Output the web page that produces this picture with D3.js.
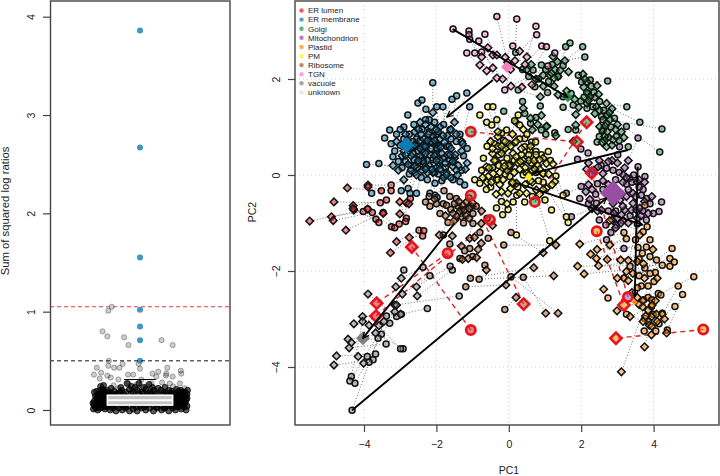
<!DOCTYPE html>
<html>
<head>
<meta charset="utf-8">
<script src="https://cdn.jsdelivr.net/npm/d3@7"></script>
<style>
	html, body { margin: 0; padding: 0; background: #fff; }
	svg { display: block; }
	text { font-family: "Liberation Sans", Arial, sans-serif; fill: #222; }
</style>
</head>
<body>
<div id="chart"></div>
<script>
var classNames = ["ER lumen", "ER membrane", "Golgi", "Mitochondrion", "Plastid", "PM", "Ribosome", "TGN", "vacuole", "unknown"];
var classColours = ["#E41A1C", "#0A7DB5", "#238B45", "#984EA3", "#FF8A00", "#FFF01F", "#A65628", "#F781BF", "#808080", "#DDDDDD"];

// left panel: blue outliers, then jitter/value pairs for the grey strip
var blueValues = [3.86, 2.67, 1.55, 1.02, 0.85, 0.71, 0.50];
var redCutoff = 1.05;
var blackCutoff = 0.50;
var boxStats = { low: 0.0, q1: 0.05, median: 0.10, q3: 0.15, high: 0.31 };
var stripSparse = [[-.59,1.05],[-.66,1.01],[-.78,.8],[-.68,.75],[-.33,.74],[-.24,.66],[.45,.71],[.68,.66],[-.65,.5],[-.9,.43],[-.66,.45],[-.54,.43],[-.43,.43],[-.36,.47],[-.03,.47],[0,.42],[.57,.43],[.85,.4],[.86,.37],[-.96,.36],[-.81,.38],[-.84,.32],[-.68,.35],[-.61,.33],[-.25,.36],[-.14,.36],[.26,.37],[.38,.39],[.55,.37],[.54,.35],[.34,.34],[.68,.34],[-.45,.31],[.03,.31],[-.55,.25],[-.45,.22],[-.24,.27],[-.07,.26],[.24,.27],[.46,.28],[.62,.27],[.83,.27],[.69,.24],[.93,.22],[.3,.21],[.13,.24]];
var stripDense = [[-.97,.01],[-.93,.03],[-.88,0],[-.83,.02],[-.78,.05],[-.73,.01],[-.68,.03],[-.62,0],[-.57,.02],[-.5,-.01],[-.44,.02],[-.37,0],[-.3,.02],[-.22,-.01],[-.14,.01],[-.06,-.01],[.03,.02],[.12,0],[.2,.02],[.28,-.01],[.36,.02],[.45,0],[.52,.02],[.6,-.01],[.68,.02],[.74,0],[.8,.03],[.86,.01],[.92,.03],[.96,0],
	[-.96,.05],[-.9,.07],[-.85,.05],[-.8,.09],[-.74,.07],[-.7,.06],[-.95,.09],[-.88,.11],[-.82,.13],[-.76,.11],[-.71,.1],[-.93,.14],[-.86,.16],[-.8,.17],[-.74,.15],[-.69,.14],[-.9,.19],[-.83,.2],[-.77,.21],[-.71,.18],[-.95,.18],[-.82,.24],[-.76,.25],
	[.7,.04],[.76,.06],[.82,.07],[.88,.05],[.94,.07],[.98,.04],[.72,.09],[.78,.11],[.84,.1],[.9,.12],[.96,.1],[.71,.13],[.77,.15],[.83,.14],[.89,.16],[.95,.14],[.72,.17],[.8,.19],[.87,.18],[.94,.18],[.99,.2],[.76,.21],
	[-.62,.05],[-.5,.04],[-.38,.05],[-.26,.04],[-.14,.05],[0,.04],[.14,.05],[.28,.04],[.42,.05],[.56,.04],[-.62,.17],[-.54,.19],[-.46,.17],[-.38,.2],[-.3,.18],[-.22,.21],[-.14,.18],[-.06,.2],[.04,.18],[.12,.21],[.2,.18],[.28,.2],[.36,.17],[.44,.2],[.52,.18],[.6,.2],[-.6,.22],[-.4,.23],[-.18,.24],[-.1,.23],[.08,.23],[.26,.23],[.38,.22],[.52,.23],[-.27,.27],[-.02,.27],[.19,.26],[-.9,.12],[-.68,.2],[.66,.19],[.85,.2],[-.6,.1],[.62,.1],[-.65,.14],[.65,.15],
	[-.92,.02],[-.85,.08],[-.78,.03],[-.72,.04],[-.66,.08],[-.98,.07],[-.88,.14],[-.8,.06],[-.75,.19],[-.66,.17],[-.58,.16],[-.5,.16],[-.42,.18],[-.34,.16],[-.18,.17],[-.02,.17],[.08,.17],[.16,.16],[.24,.17],[.32,.16],[.48,.17],[.56,.16],[.64,.17],[.74,.08],[.8,.04],[.86,.09],[.92,.09],[.98,.12],[.74,.13],[.8,.16],[.86,.13],[.92,.15],[.98,.16],[.69,.07],[.64,.05],[-.08,.03],[.08,.03],[-.32,.03],[.34,.03],[.5,.02],[-.56,.04]];

// right panel rows: circle PC1, circle PC2, diamond PC1, diamond PC2
var erLumen = [[-3.9,-.71,-5.5,-.96],[-4.02,-.76,-4.9,-.87],[-3.77,-.78,-4.85,-.95],[-3.47,-.78,-4.5,-1.15],[-3.55,-.58,-4.83,-.56],[-3.52,-.33,-4.46,-.27],[-3.25,-.21,-3.89,-.21],[-3.25,-.33,-3.89,-.25],[-3.38,-.52,-4.3,-.64],[-3.67,-.92,-4.28,-.73],[-3.59,-.99,-4.3,-.7],[-3.24,-1.08,-3.9,-.71],[-3.15,-1.1,-3.47,-.8],[-3.03,-1.02,-3.01,-.81],[-2.83,-.9,-3.01,-.56],[-2.85,-.97,-2.83,-.58],[-2.72,-.49,-2.76,-.6],[-2.48,-1.15,-3.1,-1.39],[-2.35,-1.16,-3.27,-1.62],[-2.38,-1.27,-2.75,-1.3]];
var erMembrane = [[-2.1,1.92,-2.1,1.3],[-1.44,1.65,-1.6,.95],[-1.57,1.58,-1.9,1.0],[-1.16,1.71,-1.5,1.1],[-1.08,1.42,-1.3,.7],[-2.51,1.5,-2.3,1.05],[-2.4,1.56,-2.0,.95],[-2.29,1.37,-2.1,.8],[-1.99,1.42,-1.9,.75],[-1.82,1.42,-1.7,.82],[-2.79,1.25,-2.6,.9],[-3.29,.94,-2.8,.72],[-3.43,.77,-2.9,.5],[-3.2,.38,-2.7,.4],[-3.93,.22,-3.2,.2],[-3.59,.24,-3.05,.1],[-3.79,-.38,-2.9,-.1],[-2.55,-.38,-2.4,.1],[-2.04,-.42,-2.1,.05],[-1.98,-.47,-1.8,-.05],[-2.97,-.33,-2.7,.1],[-2.78,-.28,-2.5,.25],[-2.73,-.38,-2.55,.0],[-2.04,-.17,-2.2,.2],[-2.18,-.38,-2.0,.15],[-1.22,-.21,-1.4,.2],[-1.35,-.14,-1.5,.35],[-1.54,-.1,-1.65,.3],[-3.1,.85,-2.65,.6],[-3.0,.62,-2.45,.55],[-2.9,1.0,-2.35,.75],[-2.7,.2,-2.3,.45],[-2.55,.75,-2.25,.3],[-2.5,.5,-2.15,.55],[-2.4,.95,-2.05,.4],[-2.2,1.15,-1.95,.6],[-2.05,1.1,-1.85,.45],[-1.8,1.05,-1.75,.25],[-1.6,.75,-1.6,.55],[-1.45,.7,-1.3,.5],[-1.25,.4,-1.15,.25],[-1.15,.55,-1.45,.1],[-2.85,.28,-2.25,.05],[-2.35,.62,-2.12,.68],[-2.6,.05,-1.9,.3],[-2.0,.85,-2.42,.35],[-1.72,.6,-2.28,.15],[-1.95,.02,-2.0,.3],[-2.7,.55,-1.72,.05],[-2.2,.9,-1.55,.18],
	[-2.9,.75,-2.6,.62],[-2.75,.85,-2.5,.95],[-2.65,.7,-2.42,.85],[-2.55,.6,-2.32,.6],[-2.45,.72,-2.22,.85],[-2.38,.48,-2.15,.7],[-2.28,.58,-2.05,.72],[-2.18,.42,-1.98,.55],[-2.1,.32,-1.88,.58],[-2.0,.45,-1.78,.68],[-1.92,.2,-1.7,.42],[-1.82,.35,-1.62,.42],[-1.75,.15,-1.55,.28],[-1.65,.6,-1.48,.42],[-3.15,.5,-2.95,.4],[-3.05,.28,-2.85,.42],[-2.95,.15,-2.78,.22],[-2.75,.02,-2.6,.18],[-2.62,.32,-2.45,.4],[-2.52,.15,-2.38,.28],[-2.42,-.05,-2.3,.12],[-2.25,-.1,-2.12,.12],[-2.05,.05,-1.9,.12],[-1.85,-.12,-1.72,.0],[-1.6,-.05,-1.42,.0],[-1.3,.1,-1.2,.12],[-2.62,1.05,-2.45,1.1],[-2.3,1.15,-2.15,1.0],[-1.95,.9,-1.82,.82],[-1.62,.95,-1.45,.85],[-1.35,.85,-1.28,.65],[-3.25,.65,-3.1,.7],[-3.0,.95,-2.85,.85],[-2.0,.65,-2.25,.72],[-2.35,.3,-2.5,.3],[-2.65,.45,-2.8,.55]];
var golgi = [[2.04,2.67,1.55,2.38],[2.1,2.46,1.34,2.36],[2.73,1.96,2.16,1.94],[3.26,1.42,2.7,1.49],[3.62,1.1,2.85,1.38],[4.23,.96,2.79,1.15],[4.17,.48,2.72,1.25],[1.69,2.75,1.22,2.47],[1.57,2.67,1.36,2.05],[.19,2.55,.49,2.19],[.67,2.19,.95,2.08],[.9,2.29,1.13,2.08],[1.36,2.05,1.65,2.15],[.72,1.84,.95,1.85],[.26,1.77,.87,1.63],[1.07,1.72,1.36,1.67],[1.92,2.08,2.05,2.1],[2.01,1.94,2.07,1.83],[2.28,1.85,2.44,1.86],[2.19,1.7,2.38,1.62],[1.5,1.63,1.82,1.58],[1.99,1.54,2.16,1.49],[1.78,1.46,1.93,1.41],[2.16,1.39,2.42,1.42],[1.5,1.41,1.85,1.26],[2.51,1.53,2.38,1.28],[2.56,1.22,2.72,1.25],[2.7,1.08,2.51,1.01],[3.25,1.01,3.11,.9],[2.61,.94,2.65,.8],[2.97,.8,2.88,.73],[2.44,.69,2.7,.59],[3.3,.59,2.65,.72],[1.64,.95,1.85,1.04],[1.85,.94,1.78,.7],[.87,1.44,1.05,1.02],[.38,1.53,.4,1.39],[.44,1.28,.9,1.24],[.75,1.2,.6,1.18],[.6,1.08,.65,.94],[.9,.94,1.04,1.01],[1.27,.88,1.3,.82],[-.14,1.33,.2,1.1],[1.02,2.2,1.18,2.12],[1.2,2.3,1.28,2.2],[2.15,1.72,2.24,1.63],[2.6,1.15,2.66,1.02],[2.58,.92,2.72,.9],[2.08,1.62,2.2,1.55],[.82,2.0,1.25,2.02],
	[1.5,2.28,1.42,2.18],[1.1,1.95,1.25,1.85],[.55,2.05,.75,2.0],[.38,2.2,.62,2.3],[1.72,1.7,1.6,1.75],[2.35,1.72,2.48,1.68],[2.25,1.98,2.1,2.0],[2.32,1.42,2.5,1.35],[2.62,1.35,2.78,1.3],[2.92,1.18,3.0,1.05],[2.82,1.0,2.95,.95],[2.75,.78,2.85,.62],[2.5,.8,2.58,.68],[3.05,.72,3.18,.78],[1.02,.85,.8,1.05]];
var mito = [[3.57,.17,3.2,-.73],[3.76,-.03,3.25,-.45],[3.25,-.19,3.07,-.52],[3.71,-.3,3.43,-.38],[3.66,-.42,3.43,-.59],[3.8,-.49,3.39,-.73],[4.22,-.56,3.53,-.73],[4.15,-.76,3.62,-.69],[3.99,-.8,3.85,-.8],[3.8,-.94,3.11,-.83],[2.97,-1.04,2.86,-.94],[2.5,-.94,2.56,-.73],[2.68,-1.04,2.88,-.59],[2.7,-1.35,3.0,-.9],[3.18,-1.53,3.1,-1.0],[1.96,-.49,2.24,-.51],[2.42,-.59,2.13,-.35],[2.0,-.24,2.47,.17],[2.7,.14,2.6,.03],[2.88,.1,3.16,0],[3.34,-.07,3.55,-.15],[1.59,-.38,2.2,-.2],[1.73,-.87,2.3,-.7],[3.57,.77,3.3,.3],[3.06,.59,3.0,.25],[2.19,.46,2.5,.3],[3.01,.42,2.85,.3],[1.9,.33,2.2,.25],[1.99,.54,2.35,.1],
	[2.95,-.75,3.15,-.65],[3.3,-.3,3.5,-.45],[2.6,-.3,2.75,-.2],[2.45,-.18,2.6,-.12],[3.05,.05,3.2,.15],[3.45,.0,3.6,-.1],[3.6,-.25,3.75,-.15],[3.35,-.85,3.55,-.9],[3.15,-.95,3.3,-1.0],[2.75,-.75,2.9,-.8],[2.4,-.4,2.3,-.3],[2.2,-.6,2.45,-.75],[3.9,-.6,3.95,-.45],[3.7,-.75,3.75,-.55],[2.95,-.1,3.15,-.15],[2.55,.2,2.75,.28],[2.82,-1.2,2.95,-1.1],[3.4,-.15,3.25,-.05],[2.3,.02,2.15,.12],[3.55,-1.02,3.65,-.85]];
var plastid = [[3.18,-1.2,1.96,-1.44],[3.25,-1.33,2.26,-1.65],[3.57,-1.51,2.44,-1.55],[3.9,-1.35,2.42,-1.74],[3.71,-1.18,2.79,-.95],[3.82,-1.08,2.79,-1.46],[3.76,-.63,3.3,-1.78],[3.69,-1.63,3.09,-1.77],[3.9,-1.7,2.72,-1.76],[4.08,-1.77,2.48,-1.89],[4.24,-1.88,1.9,-1.9],[3.76,-1.94,2.08,-2.06],[4.05,-2.03,3.25,-2.01],[4.45,-1.74,3.43,-2.05],[4.57,-1.81,3.18,-2.15],[4.45,-1.9,3.0,-2.15],[4.51,-1.53,3.3,-2.2],[5.11,-2.12,3.6,-2.7],[4.68,-2.31,3.94,-3.33],[4.8,-2.49,4.36,-3.29],[4.13,-2.47,3.75,-3.58],[4.01,-2.22,3.11,-4.1],[3.66,-2.31,3.55,-2.55],[3.85,-2.31,3.7,-2.62],[2.74,-2.56,2.62,-2.38],[3.73,-2.6,2.99,-2.83],[3.94,-2.74,3.35,-2.95],[4.59,-2.74,4.1,-3.05],[4.24,-2.88,3.95,-2.95],[3.99,-2.9,3.88,-3.13],[3.25,-2.9,3.71,-3.05],[3.76,-2.99,3.78,-2.94],[3.74,-3.25,4.08,-2.9],[4.06,-3.25,3.96,-2.71],[4.38,-3.23,4.24,-2.9],
	[3.35,-1.9,3.55,-1.8],[3.8,-1.5,3.98,-1.55],[3.6,-2.1,3.75,-2.15],[3.55,-2.35,3.4,-2.45],[3.9,-2.05,4.1,-2.15],[4.2,-2.5,4.05,-2.62],[3.85,-2.55,3.7,-2.75],[3.95,-2.6,3.85,-2.82],[3.5,-1.35,3.62,-1.25],[4.15,-3.1,4.3,-3.0],[3.85,-3.05,3.95,-3.15],[3.6,-1.75,3.72,-1.85]];
var pm = [[-.58,1.42,-.3,.8],[-.44,1.42,-.1,.7],[-.8,1.25,-.5,.7],[-.61,1.1,-.3,.6],[-.33,1.15,-.1,.55],[-.47,1.04,-.45,.45],[.26,1.25,.2,.7],[.16,1.13,.05,.6],[.3,1.04,.35,.55],[.44,.76,.55,.3],[.63,.69,.7,.3],[.74,.69,.8,.2],[.75,.49,.65,.1],[.58,.52,.45,.15],[1.09,.49,.95,.03],[.9,.42,1.04,.24],[.44,.59,.25,.25],[-.06,.94,-.2,.45],[-.2,.87,-.35,.3],[-.02,.66,.05,.2],[.17,.67,.12,.45],[-.16,.52,-.05,.1],[.35,.42,.15,.05],[1.18,-.73,.76,-.31],[1.64,-.99,1.04,-.28],[1.59,-.87,1.27,-.14],[1.5,-.42,1.22,.23],[1,-.52,.49,-.38],[.44,-.56,.3,-.38],[.12,-.56,-.02,-.38],[-.02,-.72,-.2,-.35],[-.17,-.83,-.16,-.1],[.21,-1.25,.21,-.17],[1.13,-1.37,.65,-.15],[-.94,-.1,-.57,-.03],[-.8,-.17,-.62,.17],[-.34,-.1,-.43,.03],[-.34,-.69,-.25,-.2],[.95,.03,.55,.0],[.03,-.03,.3,.12],[-.15,.25,.1,-.18],[.4,.0,.6,-.12],[-.45,.15,-.25,.05],[.75,.05,.4,.3],[-.05,.35,.2,.38],[.55,.42,.85,.12],[-.28,.2,.0,.2],
	[-.6,.6,-.4,.3],[-.7,.35,-.55,.15],[-.75,.1,-.6,-.15],[-.5,-.25,-.35,-.4],[-.2,-.55,-.05,-.6],[.25,-.25,.45,-.2],[.65,-.45,.85,-.4],[.95,-.15,1.1,.02],[1.15,.3,.95,.35],[.75,.42,.6,.6],[.3,.75,.1,.85],[-.15,.72,-.3,.9],[-.4,.65,-.2,.6],[.5,.85,.4,.95],[.15,.3,.32,.28],[-.1,.02,.05,-.28],[.22,-.42,.1,-.15],[.48,.05,.72,.12],[.62,.25,.85,.32],[.02,.15,-.12,.18],[-.3,-.1,-.48,-.15],[-.62,-.3,-.72,-.05],[.82,-.12,.95,-.3],[1.3,-.02,1.2,-.2],[-.28,.42,-.45,.55]];
var ribosome = [[-1.79,-.33,-1.03,-.66],[-2.3,-.56,-1.26,-.63],[-2.18,-.65,-1.35,-.76],[-2,-.6,-1.54,-.8],[-1.81,-.6,-1.49,-.94],[-1.72,-.63,-1.22,-.73],[-1.63,-.45,-1.17,-.56],[-1.45,-.49,-1.31,-.87],[-1.68,-.99,-1.92,-1.25],[-1.81,-1.25,-1.56,-1.27],[-1.63,-1.44,-1.31,-1.48],[-.99,-.8,-1.08,-1.32],[-.99,-1.01,-.76,-1.01],[-.57,-1.32,-.76,-1.42],[-1.08,-1.53,-.89,-1.72],[-1.35,-1.74,-1.28,-1.76],[-1.22,-1.58,-1.12,-1.74],[-.66,-1.88,-.62,-1.98],[-1.06,-2.15,.69,-1.93],[-.82,-2.17,1.24,-2.1],[-1.19,-2.33,-.08,-2.29],[.06,-1.2,.95,-1.62],[-.14,-1.46,1.3,-1.46],[.4,-2.13,1.02,-2.88],[.06,-2.12,1.36,-2.88],[-.11,-2.8,.2,-2.55],[-1.4,-.65,-1.18,-.85],[-1.3,-.72,-1.1,-.7],
	[-1.5,-.6,-1.38,-.55],[-1.6,-.72,-1.44,-.86],[-1.1,-.48,-1.0,-.58],[-.9,-.65,-.75,-.75],[-1.25,-1.0,-1.1,-.9],[-.6,-.9,-.45,-1.05],[-2.2,-.45,-2.05,-.5],[-1.9,-.8,-1.75,-.85],[-1.0,-1.7,-.85,-1.55],[-.8,-1.2,-.95,-1.3]];
var tgn = [[-1.54,3.04,-.44,2.5],[-1.1,3.0,-.58,2.65],[-1.1,2.92,-.75,2.46],[-.66,2.93,-.33,2.5],[-.33,3.3,-.03,2.35],[.22,3.25,.17,2.38],[.75,3.1,.5,2.46],[.77,2.92,.3,2.58],[.11,2.69,-.1,2.45],[.91,2.69,.45,2.3],[1.04,2.67,.36,1.83],[1.27,2.54,.64,1.88],[-1.08,2.83,-.61,2.17],[-.83,2.79,-.44,2.23],[-1.16,2.54,-.8,2.29],[-.94,2.54,-.33,2.02],[-.75,2.56,-.17,2.0],[1.08,2.27,.06,1.85],[-.11,1.77,.05,2.2]];
var vacuole = [[-2.37,-1.92,-2.97,-2.15],[-2.9,-1.98,-3.12,-2.33],[-2.18,-2.1,-2.94,-2.48],[-1.56,-1.98,-2.53,-2.52],[-1.62,-1.9,-2.55,-2.33],[-1.37,-2.52,-3.15,-2.71],[-2.25,-2.78,-2.99,-2.9],[-3.1,-2.95,-3.89,-2.48],[-2.97,-2.9,-4.04,-2.95],[-3.38,-2.94,-4.28,-3.1],[-3.29,-3.09,-3.86,-3.13],[-3.52,-3.32,-4.44,-3.42],[-3.61,-3.4,-4.35,-3.49],[-3.39,-3.52,-4.41,-3.6],[-3.68,-3.73,-4.76,-3.77],[-3.75,-3.85,-4.83,-3.96],[-3.91,-3.78,-4.16,-3.78],[-3.86,-3.9,-4.01,-3.92],[-2.92,-3.62,-3.68,-3.29],[-2.99,-3.62,-3.59,-3.14],[-4.35,-4.2,-4.04,-3.05],[-4.39,-4.29,-3.1,-2.71],[-4.25,-4.34,-3.15,-2.85],[-4.33,-4.9,-3.45,-3.05]];
var classRows = [erLumen, erMembrane, golgi, mito, plastid, pm, ribosome, tgn, vacuole];

// class, circle PC1, circle PC2, diamond PC1, diamond PC2
var redPairs = [[2,-1.05,.9,1.88,.69],[2,.72,-.56,2.15,1.1],[6,-1.05,-.42,.41,-2.69],[0,-.52,-.94,-3.67,-2.94],[0,-1.69,-1.63,-3.65,-2.67],[0,-1.05,-3.23,-2.68,-1.5],[3,3.29,-2.54,2.29,.04],[4,2.43,-1.17,3.18,-2.71],[4,5.37,-3.22,2.96,-3.4]];
// class, PC1, PC2, half diagonal in px
var centroids = [[3,2.88,-.38,13],[1,-2.83,.62,8],[8,-4.03,-3.4,7],[2,1.63,1.62,5],[7,-.05,2.25,6],[5,.55,-.04,4],[6,-1.55,-1.0,4],[4,3.48,-2.65,3]];
// from PC1, from PC2, to PC1, to PC2
var trajectories = [[-1.55,3.04,1.63,1.62],[-.44,1.98,-1.71,1.21],[-4.33,-4.9,2.7,-.48],[-1.49,-1.0,-4.03,-3.4],[.22,-.17,3.7,-1.04],[3.56,.17,3.48,-2.54],[3.29,.52,.66,.04]];

var xTicks = [-4, -2, 0, 2, 4];
var yTicks = [-4, -2, 0, 2];
var stripTicks = [0, 1, 2, 3, 4];

var svg = d3.select("#chart").append("svg").attr("width", 720).attr("height", 476);

var stripX = d3.scaleLinear().domain([-1, 1]).range([92, 188]);
var stripY = d3.scaleLinear().domain([0, 4]).range([410, 16.7]);
var pcX = d3.scaleLinear().domain([-4, 4]).range([364, 653.6]);
var pcY = d3.scaleLinear().domain([-4, 2]).range([367, 79]);

function diamond(halfDiagonal) {
	var side = halfDiagonal * Math.SQRT2;
	return d3.symbol().type(d3.symbolSquare).size(side * side)();
}

function placeDiamond(x, y) {
	return "translate(" + x + "," + y + ") rotate(45)";
}

function buildFrame(target, x0, x1, y0, y1) {
	target.append("rect")
		.attr("x", x0)
		.attr("y", y0)
		.attr("width", x1 - x0)
		.attr("height", y1 - y0)
		.attr("fill", "none")
		.attr("stroke", "#444")
		.attr("stroke-width", 1.4);
}

function styleAxis(g) {
	g.select(".domain").remove();
	g.selectAll("line").attr("stroke", "#444").attr("stroke-width", 1.2);
	g.selectAll("text").attr("font-size", 10.5).attr("fill", "#222");
}

function rotateLabels(axis) {
	axis.selectAll("text")
		.attr("x", -18)
		.attr("dy", "0.32em")
		.attr("text-anchor", "middle")
		.attr("transform", "rotate(-90,-18,0)");
}

function buildStrip() {
	var g = svg.append("g");

	g.selectAll(".dense")
		.data(stripDense)
		.enter()
	  .append("circle")
		.attr("cx", function (d) { return stripX(d[0]); })
		.attr("cy", function (d) { return stripY(d[1]); })
		.attr("r", 3)
		.attr("fill", "#000")
		.attr("fill-opacity", 0.65)
		.attr("stroke", "#000")
		.attr("stroke-opacity", 0.75)
		.attr("stroke-width", 1);

	g.selectAll(".sparse")
		.data(stripSparse)
		.enter()
	  .append("circle")
		.attr("cx", function (d) { return stripX(d[0]); })
		.attr("cy", function (d) { return stripY(d[1]); })
		.attr("r", 2.6)
		.attr("fill", "#000")
		.attr("fill-opacity", 0.2)
		.attr("stroke", "#000")
		.attr("stroke-opacity", 0.3)
		.attr("stroke-width", 1);

	// whisker, staple and box
	g.append("line")
		.attr("x1", stripX(0)).attr("x2", stripX(0))
		.attr("y1", stripY(boxStats.high)).attr("y2", stripY(boxStats.q3))
		.attr("stroke", "#000").attr("stroke-width", 1);
	g.append("line")
		.attr("x1", stripX(-0.33)).attr("x2", stripX(0.33))
		.attr("y1", stripY(boxStats.high)).attr("y2", stripY(boxStats.high))
		.attr("stroke", "#000").attr("stroke-width", 1);
	g.append("rect")
		.attr("x", stripX(-0.68))
		.attr("y", stripY(boxStats.q3))
		.attr("width", stripX(0.68) - stripX(-0.68))
		.attr("height", stripY(boxStats.q1) - stripY(boxStats.q3))
		.attr("fill", "#c4c4c4")
		.attr("stroke", "#fff")
		.attr("stroke-width", 1.6);
	g.append("line")
		.attr("x1", stripX(-0.68)).attr("x2", stripX(0.68))
		.attr("y1", stripY(boxStats.median)).attr("y2", stripY(boxStats.median))
		.attr("stroke", "#fff").attr("stroke-width", 2);

	g.selectAll(".blue")
		.data(blueValues)
		.enter()
	  .append("circle")
		.attr("cx", stripX(0))
		.attr("cy", function (d) { return stripY(d); })
		.attr("r", 3)
		.attr("fill", "#1f83bd")
		.attr("fill-opacity", 0.85);

	g.append("line")
		.attr("x1", 50).attr("x2", 230)
		.attr("y1", stripY(redCutoff)).attr("y2", stripY(redCutoff))
		.attr("stroke", "#e8383a").attr("stroke-width", 1).attr("stroke-dasharray", "4,3");
	g.append("line")
		.attr("x1", 50).attr("x2", 230)
		.attr("y1", stripY(blackCutoff)).attr("y2", stripY(blackCutoff))
		.attr("stroke", "#111").attr("stroke-width", 1).attr("stroke-dasharray", "4,3");

	buildFrame(svg, 50.5, 230, 1, 425);

	svg.append("g")
		.attr("transform", "translate(50,0)")
		.call(d3.axisLeft(stripY).tickValues(stripTicks).tickSize(7).tickFormat(d3.format("d")))
		.call(styleAxis)
		.call(rotateLabels);

	svg.append("text")
		.attr("transform", "translate(9,211) rotate(-90)")
		.attr("text-anchor", "middle")
		.attr("font-size", 11.3)
		.text("Sum of squared log ratios");
}

function buildGrid() {
	var g = svg.append("g");
	g.selectAll(".vgrid")
		.data(xTicks)
		.enter()
	  .append("line")
		.attr("x1", function (d) { return pcX(d); })
		.attr("x2", function (d) { return pcX(d); })
		.attr("y1", 1).attr("y2", 425)
		.attr("stroke", "#ccc").attr("stroke-dasharray", "1,3");
	g.selectAll(".hgrid")
		.data(yTicks)
		.enter()
	  .append("line")
		.attr("y1", function (d) { return pcY(d); })
		.attr("y2", function (d) { return pcY(d); })
		.attr("x1", 295).attr("x2", 719)
		.attr("stroke", "#ccc").attr("stroke-dasharray", "1,3");
}

function buildLinks() {
	var g = svg.append("g");
	classRows.forEach(function (rows) {
		g.append("g").selectAll("line")
			.data(rows)
			.enter()
		  .append("line")
			.attr("x1", function (d) { return pcX(d[0]); })
			.attr("y1", function (d) { return pcY(d[1]); })
			.attr("x2", function (d) { return pcX(d[2]); })
			.attr("y2", function (d) { return pcY(d[3]); })
			.attr("stroke", "#333")
			.attr("stroke-width", 1)
			.attr("stroke-opacity", 0.7)
			.attr("stroke-dasharray", "1,2");
	});
	g.append("g").selectAll("line")
		.data(redPairs)
		.enter()
	  .append("line")
		.attr("x1", function (d) { return pcX(d[1]); })
		.attr("y1", function (d) { return pcY(d[2]); })
		.attr("x2", function (d) { return pcX(d[3]); })
		.attr("y2", function (d) { return pcY(d[4]); })
		.attr("stroke", "#e01f26")
		.attr("stroke-width", 1.4)
		.attr("stroke-dasharray", "5,4");
}

function buildPoints() {
	classRows.forEach(function (rows, k) {
		var g = svg.append("g");
		g.selectAll("circle")
			.data(rows)
			.enter()
		  .append("circle")
			.attr("cx", function (d) { return pcX(d[0]); })
			.attr("cy", function (d) { return pcY(d[1]); })
			.attr("r", 3)
			.attr("fill", classColours[k])
			.attr("fill-opacity", 0.5)
			.attr("stroke", "#111")
			.attr("stroke-width", 1.5);
		g.selectAll("path")
			.data(rows)
			.enter()
		  .append("path")
			.attr("d", diamond(3.8))
			.attr("transform", function (d) { return placeDiamond(pcX(d[2]), pcY(d[3])); })
			.attr("fill", classColours[k])
			.attr("fill-opacity", 0.5)
			.attr("stroke", "#111")
			.attr("stroke-width", 1.5);
	});
}

function buildRedPairs() {
	var g = svg.append("g");
	g.selectAll("circle")
		.data(redPairs)
		.enter()
	  .append("circle")
		.attr("cx", function (d) { return pcX(d[1]); })
		.attr("cy", function (d) { return pcY(d[2]); })
		.attr("r", 4.6)
		.attr("fill", function (d) { return classColours[d[0]]; })
		.attr("fill-opacity", 0.55)
		.attr("stroke", "#e8141c")
		.attr("stroke-width", 2.8);
	g.selectAll("path")
		.data(redPairs)
		.enter()
	  .append("path")
		.attr("d", diamond(5.6))
		.attr("transform", function (d) { return placeDiamond(pcX(d[3]), pcY(d[4])); })
		.attr("fill", function (d) { return classColours[d[0]]; })
		.attr("fill-opacity", 0.55)
		.attr("stroke", "#e8141c")
		.attr("stroke-width", 2.6);
}

function buildCentroids() {
	svg.append("g").selectAll("path")
		.data(centroids)
		.enter()
	  .append("path")
		.attr("d", function (d) { return diamond(d[3]); })
		.attr("transform", function (d) { return placeDiamond(pcX(d[1]), pcY(d[2])); })
		.attr("fill", function (d) { return classColours[d[0]]; });
}

function buildTrajectories() {
	svg.append("defs").append("marker")
		.attr("id", "head")
		.attr("viewBox", "0 0 10 10")
		.attr("refX", 9)
		.attr("refY", 5)
		.attr("markerWidth", 4)
		.attr("markerHeight", 4)
		.attr("orient", "auto")
	  .append("path")
		.attr("d", "M1,1L9,5L1,9")
		.attr("fill", "none")
		.attr("stroke", "#000")
		.attr("stroke-width", 1.6);

	svg.append("g").selectAll("line")
		.data(trajectories)
		.enter()
	  .append("line")
		.attr("x1", function (d) { return pcX(d[0]); })
		.attr("y1", function (d) { return pcY(d[1]); })
		.attr("x2", function (d) { return pcX(d[2]); })
		.attr("y2", function (d) { return pcY(d[3]); })
		.attr("stroke", "#000")
		.attr("stroke-width", 1.9)
		.attr("marker-end", "url(#head)");
}

function buildAxes() {
	buildFrame(svg, 295, 719, 1, 425);

	svg.append("g")
		.attr("transform", "translate(0,425)")
		.call(d3.axisBottom(pcX).tickValues(xTicks).tickSize(7).tickPadding(9).tickFormat(d3.format("d")))
		.call(styleAxis);

	svg.append("g")
		.attr("transform", "translate(295,0)")
		.call(d3.axisLeft(pcY).tickValues(yTicks).tickSize(7).tickFormat(d3.format("d")))
		.call(styleAxis)
		.call(rotateLabels);

	svg.append("text")
		.attr("x", 509)
		.attr("y", 474)
		.attr("text-anchor", "middle")
		.attr("font-size", 10.5)
		.text("PC1");
	svg.append("text")
		.attr("transform", "translate(256,212) rotate(-90)")
		.attr("text-anchor", "middle")
		.attr("font-size", 10.5)
		.text("PC2");
}

function buildLegend() {
	var g = svg.append("g");
	g.selectAll("circle")
		.data(classNames)
		.enter()
	  .append("circle")
		.attr("cx", 301.5)
		.attr("cy", function (d, i) { return 10.5 + i * 9.1; })
		.attr("r", 2.2)
		.attr("fill", function (d, i) { return classColours[i]; })
		.attr("fill-opacity", 0.7);
	g.selectAll("text")
		.data(classNames)
		.enter()
	  .append("text")
		.attr("x", 308)
		.attr("y", function (d, i) { return 13.3 + i * 9.1; })
		.attr("font-size", 8)
		.attr("fill", "#333")
		.text(function (d) { return d; });
}

buildStrip();
buildGrid();
buildLinks();
buildPoints();
buildRedPairs();
buildCentroids();
buildTrajectories();
buildAxes();
buildLegend();
</script>
</body>
</html>
